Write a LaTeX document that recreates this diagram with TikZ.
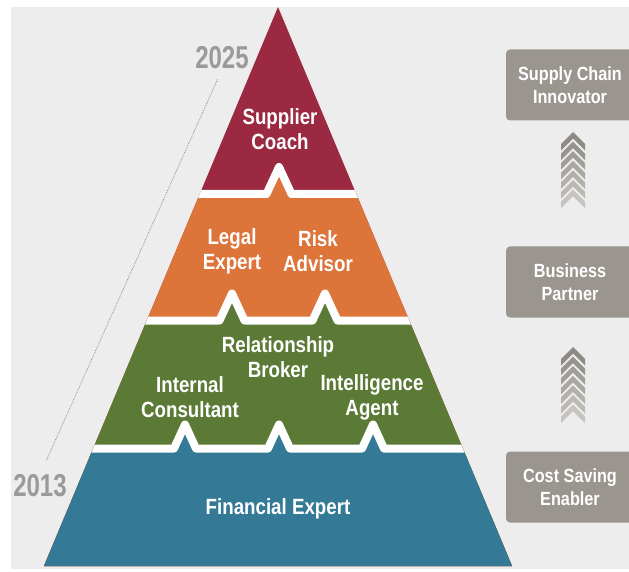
\documentclass[tikz,border=0pt]{standalone}
\usepackage{fontspec}
\newfontfamily\condfont[FakeStretch=0.85]{Liberation Sans}
\newfontfamily\yearfont[FakeStretch=0.76]{Liberation Sans}
\usetikzlibrary{calc}
\definecolor{bgcol}{HTML}{EEEDED}
\definecolor{coachred}{HTML}{9B2941}
\definecolor{advorange}{HTML}{DD743A}
\definecolor{brokergreen}{HTML}{5B7A36}
\definecolor{finblue}{HTML}{347A97}
\definecolor{boxgrey}{HTML}{9A968F}
\definecolor{yeargrey}{HTML}{9A9A9A}
\definecolor{chevdark}{HTML}{8E8A85}
\definecolor{chevlight}{HTML}{CCC9C4}
\tikzset{
    layerlabel/.style={text=white, align=center, inner sep=0pt, font=\condfont\bfseries\fontsize{18.8}{21.5}\selectfont},
    yearlabel/.style={text=yeargrey, inner sep=0pt, font=\yearfont\bfseries\fontsize{27}{27}\selectfont},
    rolebox/.style={rectangle, fill=boxgrey, rounded corners=0.12cm, minimum width=3.84cm, minimum height=2.13cm, text=white, align=center, font=\condfont\bfseries\fontsize{16.3}{20}\selectfont},
    gapline/.style={draw=white, line width=0.24cm, line join=round},
    timeline/.style={draw=yeargrey!90!black, densely dotted, line width=0.7pt, shorten <=0.33cm, shorten >=0.45cm},
}

\begin{document}
\begin{tikzpicture}[x=0.03cm, y=-0.03cm]
    \useasboundingbox (0,0) rectangle (629,572);
    \fill[white] (0,0) rectangle (629,572);
    \fill[bgcol] (11,7) rectangle (629,569);

    % Pyramid layers
    \begin{scope}
        \clip (278,7) -- (512,566) -- (44,566) -- cycle;
        \fill[coachred] (0,0) rectangle (600,600);
        \fill[advorange] (0,194) -- (266.5,194) -- (279,167) -- (291.5,194) -- (600,194) -- (600,600) -- (0,600) -- cycle;
        \fill[brokergreen] (0,320.5) -- (219.5,320.5) -- (232,293.5) -- (244.5,320.5) -- (312.5,320.5) -- (325,293.5) -- (337.5,320.5) -- (600,320.5) -- (600,600) -- (0,600) -- cycle;
        \fill[finblue] (0,448.5) -- (174,448.5) -- (185,424.5) -- (196,448.5) -- (268,448.5) -- (279,424.5) -- (290,448.5) -- (362,448.5) -- (373,424.5) -- (384,448.5) -- (600,448.5) -- (600,600) -- (0,600) -- cycle;
        % white gaps
        \draw[gapline] (0,194) -- (266.5,194) -- (279,167) -- (291.5,194) -- (600,194);
        \draw[gapline] (0,320.5) -- (219.5,320.5) -- (232,293.5) -- (244.5,320.5) -- (312.5,320.5) -- (325,293.5) -- (337.5,320.5) -- (600,320.5);
        \draw[gapline] (0,448.5) -- (174,448.5) -- (185,424.5) -- (196,448.5) -- (268,448.5) -- (279,424.5) -- (290,448.5) -- (362,448.5) -- (373,424.5) -- (384,448.5) -- (600,448.5);
    \end{scope}

    % Labels
    \node[layerlabel] (coach) at (280,129) {Supplier\\Coach};
    \node[layerlabel] (legal) at (232,251) {Legal\\Expert};
    \node[layerlabel] (risk) at (318,251) {Risk\\Advisor};
    \node[layerlabel] (broker) at (278,357) {Relationship\\Broker};
    \node[layerlabel] (internal) at (190,397) {Internal\\Consultant};
    \node[layerlabel] (intel) at (372,397) {Intelligence\\Agent};
    \node[layerlabel] (finexp) at (278,509) {Financial Expert};

    % Years
    \node[yearlabel] (y2025) at (222,58) {2025};
    \node[yearlabel] (y2013) at (40,486) {2013};
    \draw[timeline] (y2025.south) -- (y2013.north);

    % Roles
    \node[rolebox] (innovator) at (570,85) {Supply Chain\\Innovator};
    \node[rolebox] (partner) at (570,282) {Business\\Partner};
    \node[rolebox] (enabler) at (570,487) {Cost Saving\\Enabler};

    % Chevrons
    \foreach \top in {132,347} {
        \foreach \k in {0,...,6} {
            \pgfmathsetmacro\tp{\top+\k*9.6}
            \pgfmathtruncatemacro\mix{100-\k*15}
            \fill[chevdark!\mix!chevlight] (561,{\tp+12}) -- (573,\tp) -- (585,{\tp+12}) -- (585,{\tp+18.5}) -- (573,{\tp+6.5}) -- (561,{\tp+18.5}) -- cycle;
        }
    }
\end{tikzpicture}
\end{document}
